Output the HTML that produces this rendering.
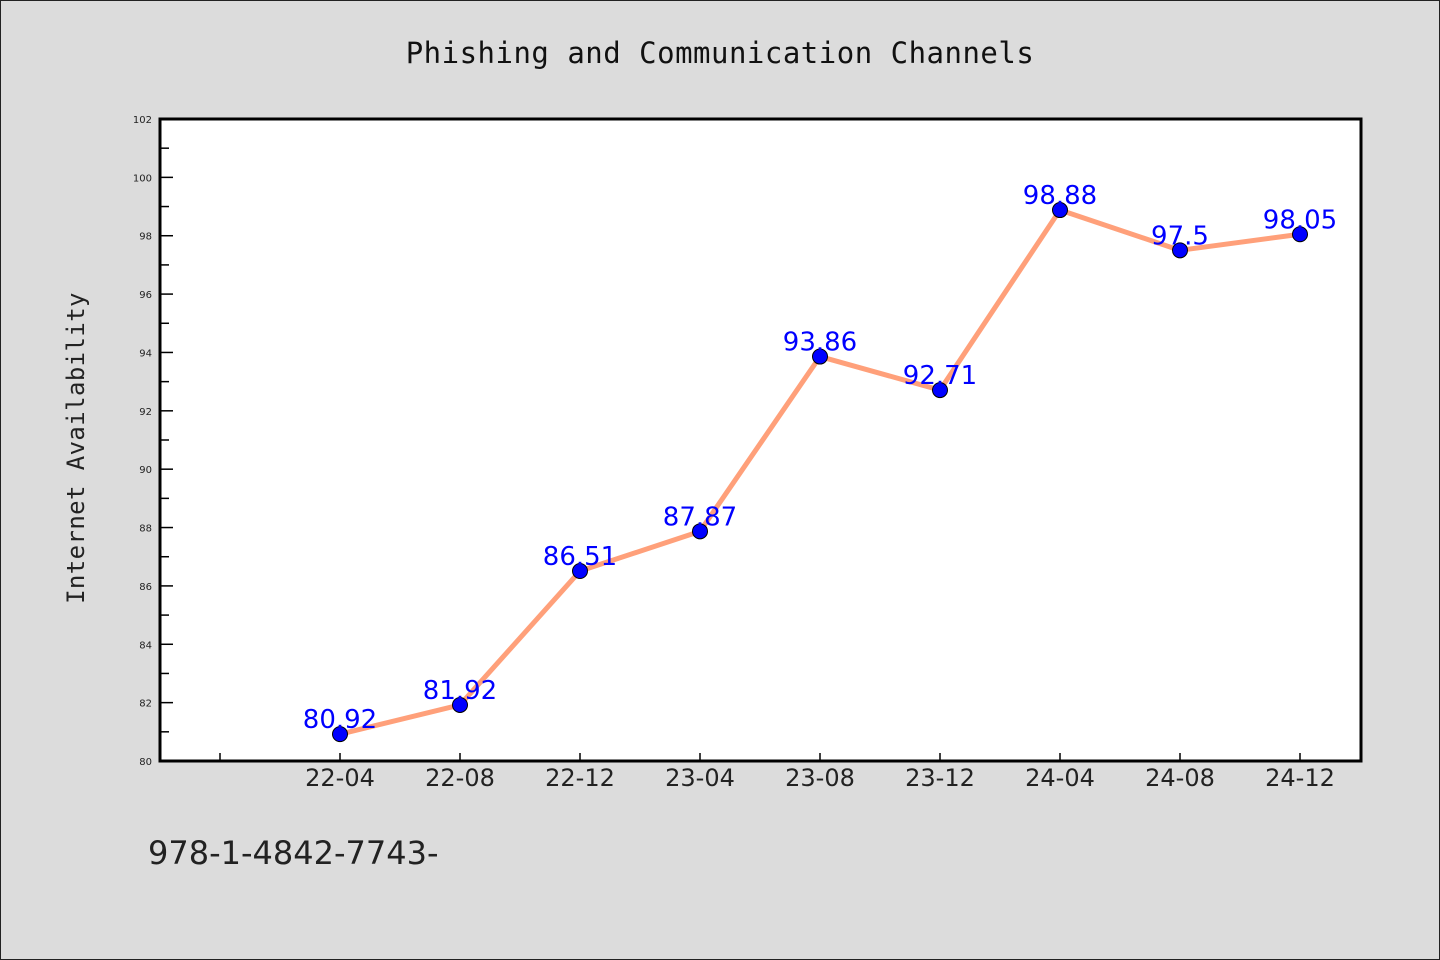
<!DOCTYPE html>
<html><head><meta charset="utf-8"><style>
body{margin:0;background:#dcdcdc}
svg{display:block}
</style></head><body>
<svg id="chart" width="1440" height="960" xmlns="http://www.w3.org/2000/svg">
<rect x="0.5" y="0.5" width="1439" height="959" fill="#dcdcdc" stroke="#222"/>
<text x="720" y="63" text-anchor="middle" font-family="'DejaVu Sans Mono','Liberation Mono',monospace" font-size="29" letter-spacing="0.5" fill="#111">Phishing and Communication Channels</text>
<rect x="160" y="119" width="1201" height="642" fill="#fff"/>
<g id="yaxis"></g>
<g id="xaxis"></g>
<g id="series"></g>
<rect x="160" y="119" width="1201" height="642" fill="none" stroke="#000" stroke-width="3"/>
<text transform="translate(84,448) rotate(-90)" text-anchor="middle" font-family="'DejaVu Sans Mono','Liberation Mono',monospace" font-size="24" letter-spacing="0.4" fill="#222">Internet Availability</text>
<text x="148" y="864" font-family="'DejaVu Sans','Liberation Sans',sans-serif" font-size="32" fill="#222">978-1-4842-7743-</text>
</svg>
<script>
const categories = ["", "22-04","22-08","22-12","23-04","23-08","23-12","24-04","24-08","24-12"];
const values = [null, 80.92,81.92,86.51,87.87,93.86,92.71,98.88,97.5,98.05];
const valueLabels = ["", "80.92","81.92","86.51","87.87","93.86","92.71","98.88","97.5","98.05"];
const yTicks = [80,82,84,86,88,90,92,94,96,98,100,102];
{
const NS="http://www.w3.org/2000/svg";
const yMin=80,yMax=102,yTop=119,yBottom=761,xLeft=160;
const y=v=>yBottom-(v-yMin)/(yMax-yMin)*(yBottom-yTop);
const x=i=>220+120*i;
function mk(t,a,p){const e=document.createElementNS(NS,t);for(const k in a)e.setAttribute(k,a[k]);p.appendChild(e);return e;}
const ya=document.getElementById('yaxis'),xa=document.getElementById('xaxis'),sg=document.getElementById('series');
yTicks.forEach((v,i)=>{
  const l=mk('line',{x1:xLeft,x2:xLeft+13,y1:y(v),y2:y(v),stroke:'#000','stroke-width':1.5},ya);
  
  
  const t=mk('text',{x:152,y:y(v)+4,'text-anchor':'end','font-family':"'DejaVu Sans',sans-serif",'font-size':10,fill:'#222'},ya);
  
  
  t.textContent=v;
  if(i<yTicks.length-1){const m=mk('line',{x1:xLeft,x2:xLeft+9,y1:y(v+1),y2:y(v+1),stroke:'#000','stroke-width':1.5},ya);
  
  }
});
categories.forEach((c,i)=>{
  const l=mk('line',{x1:x(i),x2:x(i),y1:yBottom,y2:yBottom-8,stroke:'#000','stroke-width':1.5},xa);
  
  
  const t=mk('text',{x:x(i),y:yBottom+25,'text-anchor':'middle','font-family':"'DejaVu Sans',sans-serif",'font-size':24,fill:'#222'},xa);
  
  
  t.textContent=c;
});
let d='';values.forEach((v,i)=>{if(v==null)return;d+=(d?'L':'M')+x(i)+','+y(v);});
const p=mk('path',{d:d,fill:'none',stroke:'#ffa07a','stroke-width':5,'stroke-linejoin':'round'},sg);


values.forEach((v,i)=>{if(v==null)return;
  const c=mk('circle',{cx:x(i),cy:y(v),r:7.5,fill:'#0000ff',stroke:'#000','stroke-width':1},sg);
  
  
  const t=mk('text',{x:x(i),y:y(v)-6,'text-anchor':'middle','font-family':"'DejaVu Sans',sans-serif",'font-size':26,fill:'#0000ff'},sg);
  
  
  t.textContent=valueLabels[i];
});
}
</script>
</body></html>
